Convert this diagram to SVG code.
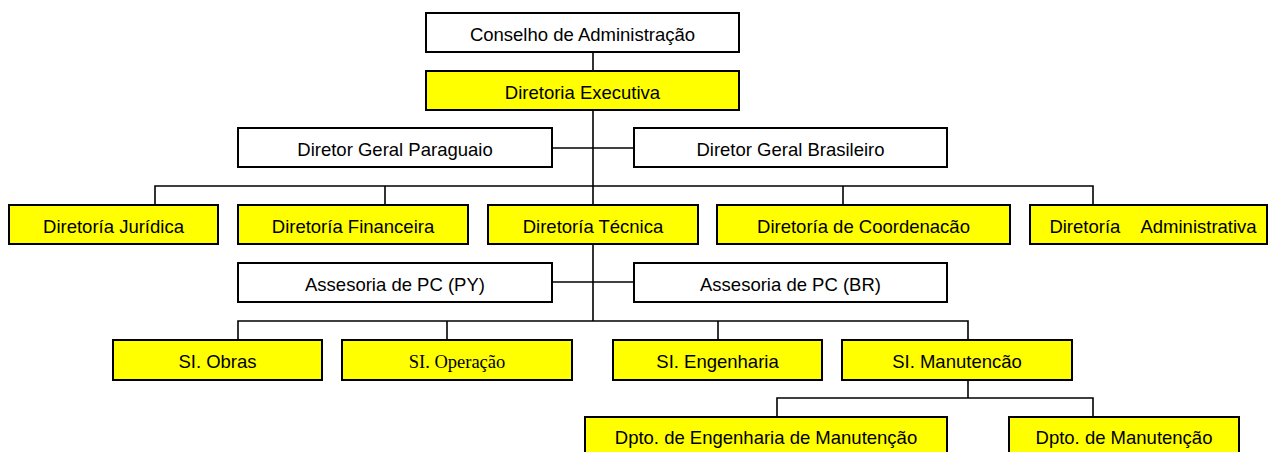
<svg xmlns="http://www.w3.org/2000/svg" width="1269" height="452" viewBox="0 0 1269 452">
<style>
  .box { stroke: #000; stroke-width: 2; }
  .w { fill: #fff; }
  .y { fill: #ffff00; }
  .t { font-family: "Liberation Sans", Arial, sans-serif; font-size: 18.5px; fill: #000; text-anchor: middle; }
  .ts { font-family: "Liberation Serif", "Times New Roman", serif; font-size: 18.5px; fill: #000; text-anchor: middle; }
  .ln { stroke: #000; stroke-width: 1.6; fill: none; }
</style>
<rect width="1269" height="452" fill="#fff"/>
<g id="connectors">
  <path class="ln" d="M593 52 V71"/>
  <path class="ln" d="M593 110 V205"/>
  <path class="ln" d="M552 148 H634"/>
  <path class="ln" d="M155 205 V186 H1093 V205"/>
  <path class="ln" d="M385 186 V205"/>
  <path class="ln" d="M843 186 V205"/>
  <path class="ln" d="M593 244 V321"/>
  <path class="ln" d="M552 282 H634"/>
  <path class="ln" d="M238 340 V321 H968 V340"/>
  <path class="ln" d="M447 321 V340"/>
  <path class="ln" d="M718 321 V340"/>
  <path class="ln" d="M968 380 V398"/>
  <path class="ln" d="M777 417 V398 H1093 V417"/>
</g>
<g id="conselho"><rect class="box w" x="426" y="13" width="313" height="39"/><text class="t" x="582.5" y="41">Conselho de Administração</text></g>
<g id="executiva"><rect class="box y" x="426" y="71" width="313" height="39"/><text class="t" x="582.5" y="99">Diretoria Executiva</text></g>
<g id="dg-paraguaio"><rect class="box w" x="238" y="128" width="314" height="39"/><text class="t" x="395" y="156">Diretor Geral Paraguaio</text></g>
<g id="dg-brasileiro"><rect class="box w" x="634" y="128" width="313" height="39"/><text class="t" x="790.5" y="156">Diretor Geral Brasileiro</text></g>
<g id="juridica"><rect class="box y" x="9" y="205" width="209" height="39"/><text class="t" x="113.5" y="233">Diretoría Jurídica</text></g>
<g id="financeira"><rect class="box y" x="238" y="205" width="230" height="39"/><text class="t" x="353" y="233">Diretoría Financeira</text></g>
<g id="tecnica"><rect class="box y" x="488" y="205" width="210" height="39"/><text class="t" x="593" y="233">Diretoría Técnica</text></g>
<g id="coordenacao"><rect class="box y" x="717" y="205" width="293" height="39"/><text class="t" x="863.5" y="233">Diretoría de Coordenacão</text></g>
<g id="administrativa"><rect class="box y" x="1030" y="205" width="237" height="39"/><text class="t" x="1153" y="233">Diretoría <tspan dx="16">Administrativa</tspan></text></g>
<g id="assesoria-py"><rect class="box w" x="238" y="263" width="314" height="39"/><text class="t" x="395" y="291">Assesoria de PC (PY)</text></g>
<g id="assesoria-br"><rect class="box w" x="634" y="263" width="313" height="39"/><text class="t" x="790.5" y="291">Assesoria de PC (BR)</text></g>
<g id="si-obras"><rect class="box y" x="113" y="340" width="209" height="40"/><text class="t" x="217.5" y="368">SI. Obras</text></g>
<g id="si-operacao"><rect class="box y" x="342" y="340" width="230" height="40"/><text class="ts" x="457" y="368">SI. Operação</text></g>
<g id="si-engenharia"><rect class="box y" x="613" y="340" width="209" height="40"/><text class="t" x="717.5" y="368">SI. Engenharia</text></g>
<g id="si-manutencao"><rect class="box y" x="842" y="340" width="230" height="40"/><text class="t" x="957" y="368">SI. Manutencão</text></g>
<g id="dpto-eng-manut"><rect class="box y" x="585" y="417" width="362" height="42"/><text class="t" x="766" y="444">Dpto. de Engenharia de Manutenção</text></g>
<g id="dpto-manut"><rect class="box y" x="1009" y="417" width="230" height="42"/><text class="t" x="1124" y="444">Dpto. de Manutenção</text></g>
</svg>
